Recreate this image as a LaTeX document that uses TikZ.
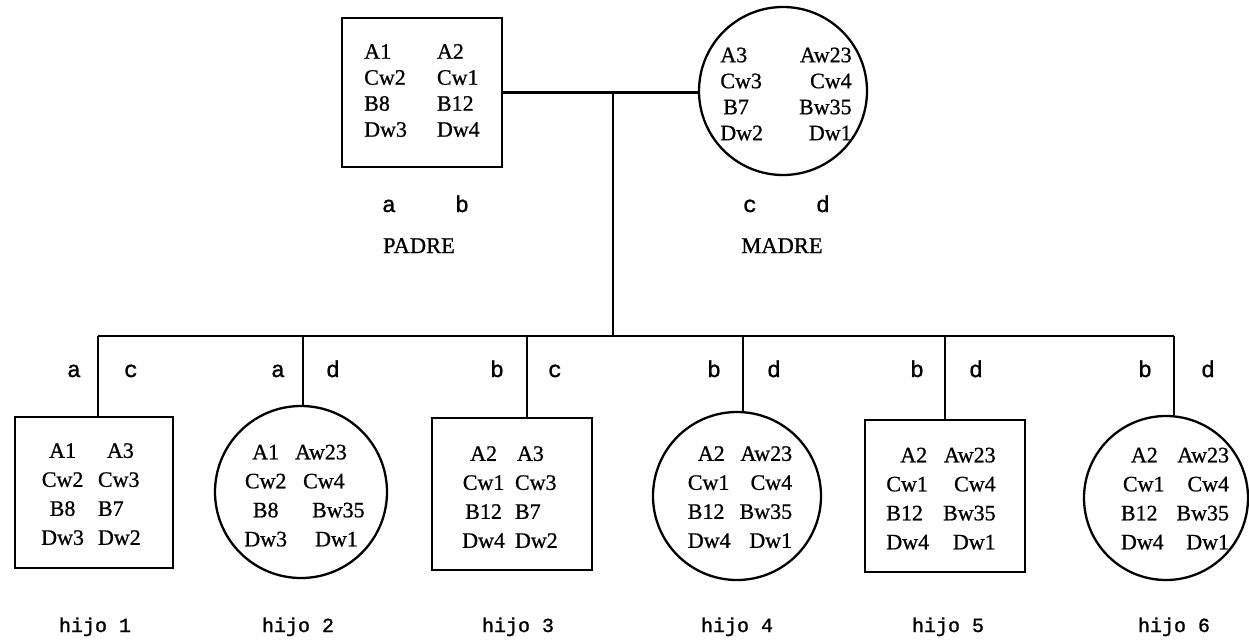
\documentclass[tikz,border=0pt]{standalone}
\usepackage{fontspec}
\setmainfont{Liberation Serif}[FakeBold=0.8]
\newfontfamily\monoA{Liberation Mono}[FakeBold=1.2]
\newcommand\boxfontP{\fontsize{22}{26}\selectfont}
\newcommand\boxfontH{\fontsize{22}{29}\selectfont}
\newcommand\txtPadre{{\boxfontP\begin{tabular}{@{}l@{\hspace{30pt}}l@{}}A1&A2\\Cw2&Cw1\\B8&B12\\Dw3&Dw4\end{tabular}}}
\newcommand\txtMadre{{\boxfontP\begin{tabular}{@{}l@{\hspace{36pt}}r@{}}A3&Aw23\\Cw3&Cw4\\\hspace{3pt}B7&Bw35\\Dw2&Dw1\end{tabular}}}
\newcommand\txtHa{{\boxfontH\begin{tabular}{@{}c@{\hspace{14pt}}l@{}}A1&\hspace{9pt}A3\\Cw2&Cw3\\B8&B7\\Dw3&Dw2\end{tabular}}}
\newcommand\txtHb{{\boxfontH\begin{tabular}{@{}c@{\hspace{8pt}}l@{}}A1&Aw23\\Cw2&\hspace{8pt}Cw4\\B8&\hspace{17pt}Bw35\\Dw3&\hspace{20pt}Dw1\end{tabular}}}
\newcommand\txtHc{{\boxfontH\begin{tabular}{@{}c@{\hspace{10pt}}l@{}}A2&\hspace{2pt}A3\\Cw1&Cw3\\B12&B7\\Dw4&Dw2\end{tabular}}}
\newcommand\txtHd{{\boxfontH\begin{tabular}{@{}l@{\hspace{9pt}}r@{}}\hspace{10pt}A2&Aw23\hspace{14pt}\\Cw1&Cw4\\B12&Bw35\\Dw4&Dw1\end{tabular}}}
\newcommand\txtHe{{\boxfontH\begin{tabular}{@{}l@{\hspace{14pt}}r@{}}\hspace{14pt}A2&Aw23\hspace{5pt}\\Cw1&Cw4\\B12&Bw35\hspace{4pt}\\Dw4&Dw1\end{tabular}}}
\newcommand\txtHf{{\boxfontH\begin{tabular}{@{}l@{\hspace{12pt}}r@{}}\hspace{10pt}A2&Aw23\hspace{7pt}\\\hspace{2pt}Cw1&Cw4\\B12&Bw35\\Dw4&Dw1\end{tabular}}}
\tikzset{
  malebox/.style={draw, line width=2.6pt, inner sep=0pt},
  femcirc/.style={draw, circle, line width=2.3pt, inner sep=0pt},
  gen/.style={inner sep=0pt},
  conn/.style={line width=2.1pt},
  lab/.style={font=\monoA\fontsize{23}{23}\selectfont, anchor=base, inner sep=0pt},
  hlab/.style={font=\monoA\fontsize{20}{20}\selectfont, anchor=base, inner sep=0pt},
  plab/.style={font=\fontsize{22.5}{22.5}\selectfont, anchor=base, inner sep=0pt},
}
\begin{document}
\begin{tikzpicture}[x=1pt,y=-1pt]
\fill[white] (0,0) rectangle (1249,642);
\useasboundingbox (0,0) rectangle (1249,642);
% parents
\node[malebox, minimum width=160pt, minimum height=149pt, label={[gen]center:\txtPadre}] (padre) at (422,92.5) {};
\node[femcirc, minimum size=168pt, label={[gen,xshift=3pt,yshift=-5pt]center:\txtMadre}] (madre) at (783,91) {};
\node[lab] (pa) at (389,212) {a};
\node[lab] (pb) at (462,212) {b};
\node[lab] (mc) at (750,212) {c};
\node[lab] (md) at (823,212) {d};
\node[plab] (padreT) at (419,253) {PADRE};
\node[plab] (madreT) at (782,253) {MADRE};
% children
\node[malebox, minimum width=158pt, minimum height=151pt, label={[gen,xshift=-3pt,yshift=-3pt]center:\txtHa}] (h1) at (94,492.5) {};
\node[femcirc, minimum size=172pt, label={[gen,xshift=3.5pt,yshift=-5pt]center:\txtHb}] (h2) at (301,492) {};
\node[malebox, minimum width=160pt, minimum height=152pt, label={[gen,xshift=-2pt,yshift=-4.5pt]center:\txtHc}] (h3) at (512,494) {};
\node[femcirc, minimum size=168pt, label={[gen,xshift=3pt,yshift=-2.5pt]center:\txtHd}] (h4) at (737,496) {};
\node[malebox, minimum width=160pt, minimum height=152pt, label={[gen,xshift=-4pt,yshift=-4pt]center:\txtHe}] (h5) at (945,496) {};
\node[femcirc, minimum size=164pt, label={[gen,xshift=9pt,yshift=-2pt]center:\txtHf}] (h6) at (1166,498) {};
% connectors
\coordinate (mid) at (613,92.5);
\coordinate (sib) at (613,336);
\coordinate (t1) at (98,336);
\coordinate (t2) at (303,336);
\coordinate (t3) at (527,336);
\coordinate (t4) at (743,336);
\coordinate (t5) at (945,336);
\coordinate (t6) at (1174,336);
\draw[conn] (padre.east) -- (padre.east -| madre.west);
\draw[conn] (mid) -- (sib);
\draw[conn] (t1) -- (t6);
\draw[conn] (t1) -- (t1 |- h1.north);
\draw[conn] (t2) -- (t2 |- h2.north);
\draw[conn] (t3) -- (t3 |- h3.north);
\draw[conn] (t4) -- (t4 |- h4.north);
\draw[conn] (t5) -- (t5 |- h5.north);
\draw[conn] (t6) -- (t6 |- h6.north);
% allele labels of children
\node[lab] (l1a) at (74,377) {a};
\node[lab] (l1b) at (131,377) {c};
\node[lab] (l2a) at (278,377) {a};
\node[lab] (l2b) at (333,377) {d};
\node[lab] (l3a) at (497,377) {b};
\node[lab] (l3b) at (555,377) {c};
\node[lab] (l4a) at (714,377) {b};
\node[lab] (l4b) at (774,377) {d};
\node[lab] (l5a) at (917,377) {b};
\node[lab] (l5b) at (976,377) {d};
\node[lab] (l6a) at (1145,377) {b};
\node[lab] (l6b) at (1208,377) {d};
% child names
\node[hlab] (n1) at (95,632) {hijo 1};
\node[hlab] (n2) at (298,632) {hijo 2};
\node[hlab] (n3) at (518,632) {hijo 3};
\node[hlab] (n4) at (737,632) {hijo 4};
\node[hlab] (n5) at (948,632) {hijo 5};
\node[hlab] (n6) at (1174,632) {hijo 6};
\end{tikzpicture}
\end{document}
